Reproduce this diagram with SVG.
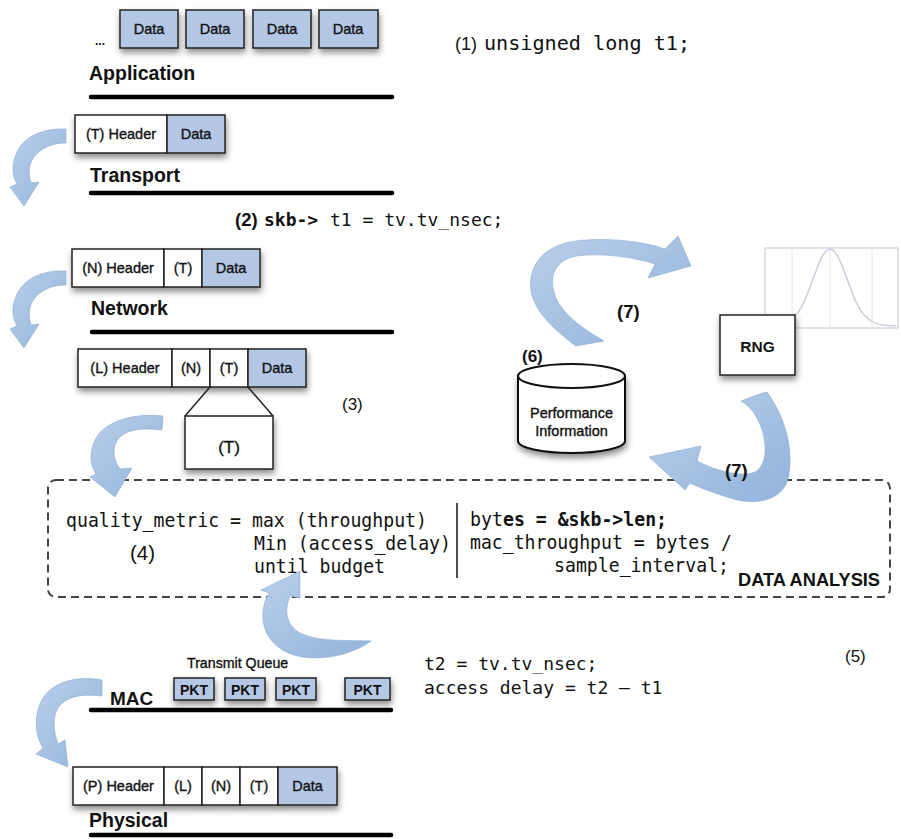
<svg xmlns="http://www.w3.org/2000/svg" width="901" height="839" viewBox="0 0 901 839">
<defs>
<filter id="sh" x="-20%" y="-20%" width="150%" height="170%"><feDropShadow dx="1" dy="4" stdDeviation="3" flood-color="#000" flood-opacity="0.45"/></filter>
<linearGradient id="ag" x1="0" y1="0" x2="1" y2="1"><stop offset="0" stop-color="#b9cfea"/><stop offset="1" stop-color="#92b3da"/></linearGradient>
</defs>
<style>
.s{font-family:"Liberation Sans",Arial,sans-serif;fill:#111}
.b{font-weight:bold}
.md{stroke:#111;stroke-width:0.35}
.m{font-family:"DejaVu Sans Mono","Liberation Mono",monospace;fill:#111}
.box{fill:#fff;stroke:#222;stroke-width:1.5}
.blue{fill:#b4c8e6;stroke:#222;stroke-width:1.5}
.dv{stroke:#222;stroke-width:1.5}
.lay{stroke:#000;stroke-width:4.5;stroke-linecap:round}
.lbl{font-size:14.5px;text-anchor:middle;stroke:#111;stroke-width:0.35}
.arr{fill:url(#ag);stroke:#8aaad3;stroke-width:0.6}
</style>
<rect width="901" height="839" fill="#fff"/>

<g id="application">
<text class="s b" x="95" y="45" font-size="12">...</text>
<g filter="url(#sh)">
<rect class="blue" x="120" y="10" width="58" height="38"/>
<rect class="blue" x="186" y="10" width="58" height="38"/>
<rect class="blue" x="253" y="10" width="58" height="38"/>
<rect class="blue" x="319" y="10" width="59" height="38"/>
</g>
<text class="s lbl" x="149" y="34">Data</text>
<text class="s lbl" x="215" y="34">Data</text>
<text class="s lbl" x="282" y="34">Data</text>
<text class="s lbl" x="348" y="34">Data</text>
<text class="s b" x="89" y="80" font-size="19.5">Application</text>
<line class="lay" x1="91" y1="97" x2="392" y2="97"/>
</g>

<g id="transport">
<g filter="url(#sh)">
<rect class="box" x="75" y="115" width="92" height="38"/>
<rect class="blue" x="167" y="115" width="58" height="38"/>
</g>
<text class="s lbl" x="121" y="139">(T) Header</text>
<text class="s lbl" x="196" y="139">Data</text>
<text class="s b" x="90" y="182" font-size="19.5">Transport</text>
<line class="lay" x1="91" y1="193" x2="392" y2="193"/>
</g>

<g id="network">
<g filter="url(#sh)">
<rect class="box" x="72" y="249" width="92" height="38"/>
<rect class="box" x="164" y="249" width="38" height="38"/>
<rect class="blue" x="202" y="249" width="58" height="38"/>
</g>
<text class="s lbl" x="118" y="273">(N) Header</text>
<text class="s lbl" x="183" y="273">(T)</text>
<text class="s lbl" x="231" y="273">Data</text>
<text class="s b" x="91" y="315" font-size="19.5">Network</text>
<line class="lay" x1="92" y1="332" x2="392" y2="332"/>
</g>

<g id="link">
<g filter="url(#sh)">
<rect class="box" x="78" y="349" width="94" height="38"/>
<rect class="box" x="172" y="349" width="38" height="38"/>
<rect class="box" x="210" y="349" width="38" height="38"/>
<rect class="blue" x="248" y="349" width="58" height="38"/>
</g>
<text class="s lbl" x="125" y="373">(L) Header</text>
<text class="s lbl" x="191" y="373">(N)</text>
<text class="s lbl" x="229" y="373">(T)</text>
<text class="s lbl" x="277" y="373">Data</text>
<line class="dv" x1="210" y1="387" x2="185" y2="416"/>
<line class="dv" x1="248" y1="387" x2="273" y2="416"/>
<rect class="box" x="185" y="416" width="88" height="53" filter="url(#sh)"/>
<text class="s md" x="229" y="453" font-size="17" text-anchor="middle">(T)</text>
<text class="s" x="342" y="410" font-size="17">(3)</text>
</g>

<g id="code1">
<text class="s" x="455" y="50" font-size="18">(1)</text>
<text class="m" x="484" y="50" font-size="19" textLength="206" lengthAdjust="spacingAndGlyphs">unsigned long t1;</text>
</g>
<g id="code2">
<text class="s b" x="235" y="226" font-size="18.5">(2)</text>
<text class="m b" x="264" y="226" font-size="18">skb-&gt;</text>
<text class="m" x="330" y="226" font-size="18">t1 = tv.tv_nsec;</text>
</g>

<g id="gaussian">
<rect x="765" y="248" width="133" height="80" fill="#fff" stroke="#cfcfd6" stroke-width="1.2"/>
<line x1="792" y1="249" x2="792" y2="327" stroke="#e6e6ea" stroke-width="1"/>
<line x1="830" y1="249" x2="830" y2="327" stroke="#e6e6ea" stroke-width="1"/>
<line x1="872" y1="249" x2="872" y2="327" stroke="#e6e6ea" stroke-width="1"/>
<path d="M767,326 C785,326 795,322 805,300 C815,275 822,249 830,249 C838,249 845,275 855,300 C865,322 875,326 896,326" fill="none" stroke="#c9c9dc" stroke-width="1.4"/>
</g>

<g id="rng">
<rect class="box" x="720" y="315" width="75" height="60" filter="url(#sh)"/>
<text class="s b" x="757.5" y="352" font-size="15.5" text-anchor="middle">RNG</text>
</g>

<g id="perf">
<text class="s b" x="522" y="362" font-size="17">(6)</text>
<path d="M518,376 V441 A53.5,12 0 0 0 625,441 V376 Z" fill="#fff" stroke="#111" stroke-width="2" filter="url(#sh)"/>
<ellipse cx="571.5" cy="376" rx="53.5" ry="12" fill="#fff" stroke="#111" stroke-width="2"/>
<text class="s md" x="571.5" y="418" font-size="14.5" text-anchor="middle">Performance</text>
<text class="s md" x="571.5" y="436" font-size="14.5" text-anchor="middle">Information</text>
<text class="s b" x="617" y="318" font-size="18.5">(7)</text>
</g>

<g id="analysis">
<rect x="48" y="480" width="842" height="117" rx="8" fill="none" stroke="#444" stroke-width="2" stroke-dasharray="8,5"/>
<text class="m" x="66" y="527" font-size="20" textLength="361" lengthAdjust="spacingAndGlyphs">quality_metric = max (throughput)</text>
<text class="m" x="254" y="550" font-size="20" textLength="197" lengthAdjust="spacingAndGlyphs">Min (access_delay)</text>
<text class="m" x="254" y="573" font-size="20" textLength="131" lengthAdjust="spacingAndGlyphs">until budget</text>
<text class="s" x="130" y="560" font-size="20" textLength="25" lengthAdjust="spacingAndGlyphs">(4)</text>
<line x1="457" y1="503" x2="457" y2="578" stroke="#111" stroke-width="1.5"/>
<text class="m" x="470" y="526" font-size="20" textLength="33" lengthAdjust="spacingAndGlyphs">byt</text>
<text class="m b" x="503" y="526" font-size="20" textLength="164" lengthAdjust="spacingAndGlyphs">es = &amp;skb-&gt;len;</text>
<text class="m" x="470" y="549" font-size="20" textLength="262" lengthAdjust="spacingAndGlyphs">mac_throughput = bytes /</text>
<text class="m" x="554" y="572" font-size="20" textLength="175" lengthAdjust="spacingAndGlyphs">sample_interval;</text>
<text class="s b" x="738" y="586" font-size="18" textLength="142" lengthAdjust="spacingAndGlyphs">DATA ANALYSIS</text>
</g>

<g id="mac">
<text class="s md" x="187" y="668" font-size="14.2">Transmit Queue</text>
<g filter="url(#sh)">
<rect class="blue" x="174" y="678" width="40" height="22"/>
<rect class="blue" x="225" y="678" width="40" height="22"/>
<rect class="blue" x="276" y="678" width="40" height="22"/>
<rect class="blue" x="345" y="678" width="45" height="22"/>
</g>
<text class="s b" x="194" y="695" font-size="14" text-anchor="middle">PKT</text>
<text class="s b" x="245" y="695" font-size="14" text-anchor="middle">PKT</text>
<text class="s b" x="296" y="695" font-size="14" text-anchor="middle">PKT</text>
<text class="s b" x="367.5" y="695" font-size="14" text-anchor="middle">PKT</text>
<text class="s b" x="110" y="705" font-size="19">MAC</text>
<line class="lay" x1="91" y1="710" x2="391" y2="710"/>
</g>

<g id="code5">
<text class="m" x="424" y="670" font-size="18">t2 = tv.tv_nsec;</text>
<text class="m" x="424" y="694" font-size="18">access delay = t2 – t1</text>
<text class="s" x="845" y="662" font-size="17">(5)</text>
</g>

<g id="physical">
<g filter="url(#sh)">
<rect class="box" x="73" y="767" width="91" height="38"/>
<rect class="box" x="164" y="767" width="38" height="38"/>
<rect class="box" x="202" y="767" width="38" height="38"/>
<rect class="box" x="240" y="767" width="38" height="38"/>
<rect class="blue" x="278" y="767" width="59" height="38"/>
</g>
<text class="s lbl" x="118.5" y="791">(P) Header</text>
<text class="s lbl" x="183" y="791">(L)</text>
<text class="s lbl" x="221" y="791">(N)</text>
<text class="s lbl" x="259" y="791">(T)</text>
<text class="s lbl" x="307.5" y="791">Data</text>
<text class="s b" x="89" y="827" font-size="19.5">Physical</text>
<line class="lay" x1="91" y1="835" x2="391" y2="835"/>
</g>

<g id="connectors">
<path class="arr" d="M66,129 C45,128 25,135 17,152 C11,165 12,175 17,184 L10,187 L24,206 L39,182 L31,183 C27,170 30,158 40,151 C48,145 57,143 66,143 Z"/>
<path class="arr" transform="translate(0,142)" d="M66,129 C45,128 25,135 17,152 C11,165 12,175 17,184 L10,187 L24,206 L39,182 L31,183 C27,170 30,158 40,151 C48,145 57,143 66,143 Z"/>
<path class="arr" d="M163,416 C135,413 110,420 98,435 C88,450 90,465 96,474 L90,477 L115,497 L132,468 L120,469 C112,458 112,445 120,437 C130,428 145,428 162,430 Z"/>
<path class="arr" d="M576,346 C546,324 527,302 531,278 C535,254 555,242 585,240 C615,238 645,242 665,249 L678,236 L691,266 L648,278 L655,264 C630,256 600,253 576,256 C556,260 549,275 554,292 C559,313 585,330 604,341 Z"/>
<path class="arr" d="M741,401 C754,396 761,393 767,392 C787,420 794,452 788,479 C782,501 755,506 730,498 C715,493 700,488 690,483 L685,490 L649,457 L701,446 L697,461 C715,470 740,478 755,472 C768,465 768,440 758,420 C753,410 748,405 741,401 Z"/>
<text class="s b" x="725" y="477" font-size="18.5">(7)</text>
<path class="arr" d="M371,641 C350,656 320,661 298,656 C275,651 261,633 263,612 C264,603 266,598 269,593 L261,590 L300,571 L300,598 L290,596 C284,610 286,625 300,633 C318,642 345,640 371,641 Z"/>
<path class="arr" d="M102,680 C80,676 55,680 43,698 C33,715 35,735 43,748 L36,754 L68,767 L65,740 L58,744 C53,730 52,715 60,705 C70,695 85,694 102,696 Z"/>
</g>
</svg>
